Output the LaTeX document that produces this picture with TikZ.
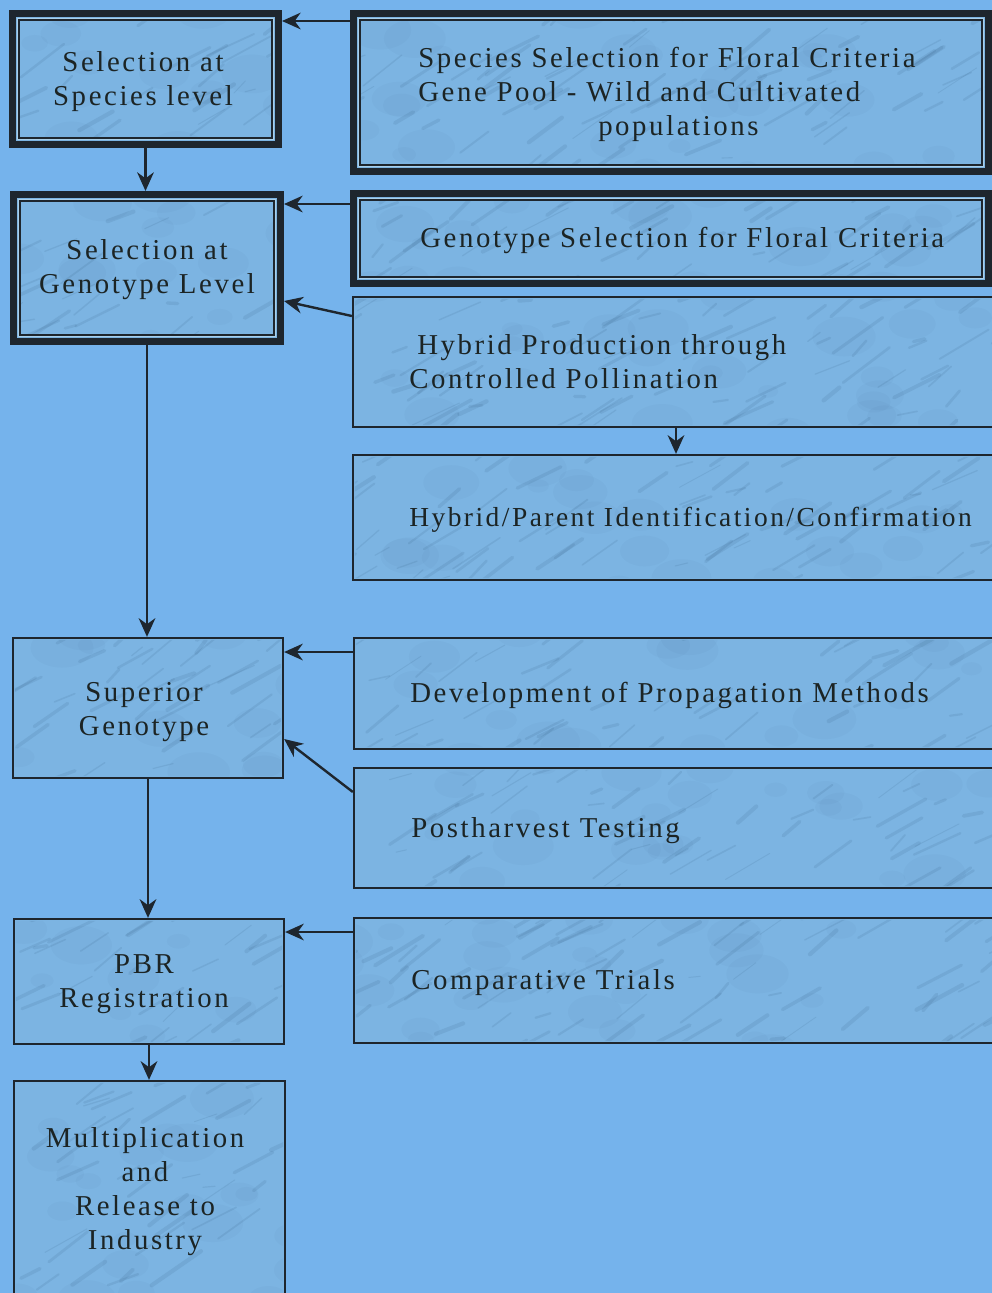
\documentclass[tikz,border=0pt]{standalone}
\usepackage{fontspec}
\setmainfont[LetterSpace=9]{Liberation Serif}
\usetikzlibrary{arrows.meta,calc}
\definecolor{bg}{RGB}{117,179,236}
\definecolor{boxc}{RGB}{124,180,226}
\definecolor{ln}{RGB}{30,38,46}
\definecolor{txt}{RGB}{28,36,36}
\definecolor{lite}{RGB}{170,208,234}
\definecolor{streak}{RGB}{55,95,135}
\begin{document}
\begin{tikzpicture}[x=0.75pt,y=-0.75pt,
  sz/.style 2 args={minimum width=#1*0.75pt, minimum height=#2*0.75pt},
  dbox/.style={draw=ln, line width=5.25pt, fill=boxc, inner sep=0pt},
  sbox/.style={draw=ln, line width=1.7pt, fill=boxc, inner sep=0pt},
  arr/.style={draw=ln, line width=1.8pt, -{Stealth[length=14pt,width=12.5pt,inset=4.5pt]}},
  lbl/.style={text=txt, inner sep=0pt, font=\fontsize{21.6}{25.5}\selectfont},
  inlite/.style={draw=lite, line width=1.1pt},
  indark/.style={draw=ln, line width=1.5pt}]
\fill[bg] (0,0) rectangle (992,1293);
\useasboundingbox (0,0) rectangle (992,1293);
\clip (0,0) rectangle (992,1293);
% double boxes
\node[dbox, sz={266}{131}] (sp) at (145.5,79) {};
\node[dbox, sz={267}{147}] (gl) at (147,268) {};
\node[dbox, sz={635}{158}] (ssel) at (671,92.5) {};
\node[dbox, sz={635}{90}] (gsel) at (671,238.5) {};
% single boxes
\node[sbox, sz={643}{130}] (hyb) at (674.5,362) {};
\node[sbox, sz={643}{125}] (hpi) at (674.5,517.5) {};
\node[sbox, sz={642}{111}] (dev) at (675,693.5) {};
\node[sbox, sz={642}{120}] (post) at (675,828) {};
\node[sbox, sz={642}{125}] (comp) at (675,980.5) {};
\node[sbox, sz={270}{140}] (sup) at (148,708) {};
\node[sbox, sz={270}{125}] (pbr) at (149,981.5) {};
\node[sbox, sz={271}{219}] (mult) at (149.5,1190.5) {};
% marble texture inside the boxes
\begin{scope}
\clip ($(sp.north west)+(8,8)$) rectangle ($(sp.south east)+(-8,-8)$)
      ($(gl.north west)+(8,8)$) rectangle ($(gl.south east)+(-8,-8)$)
      ($(ssel.north west)+(8,8)$) rectangle ($(ssel.south east)+(-8,-8)$)
      ($(gsel.north west)+(8,8)$) rectangle ($(gsel.south east)+(-8,-8)$)
      ($(hyb.north west)+(3,3)$) rectangle ($(hyb.south east)+(-3,-3)$)
      ($(hpi.north west)+(3,3)$) rectangle ($(hpi.south east)+(-3,-3)$)
      ($(dev.north west)+(3,3)$) rectangle ($(dev.south east)+(-3,-3)$)
      ($(post.north west)+(3,3)$) rectangle ($(post.south east)+(-3,-3)$)
      ($(comp.north west)+(3,3)$) rectangle ($(comp.south east)+(-3,-3)$)
      ($(sup.north west)+(3,3)$) rectangle ($(sup.south east)+(-3,-3)$)
      ($(pbr.north west)+(3,3)$) rectangle ($(pbr.south east)+(-3,-3)$)
      ($(mult.north west)+(3,3)$) rectangle ($(mult.south east)+(-3,-3)$);
\pgfmathsetseed{7}
\foreach \i in {1,...,900}{
  \pgfmathsetmacro{\xa}{rnd*1000}
  \pgfmathsetmacro{\ya}{rnd*1300}
  \pgfmathsetmacro{\dx}{10+rnd*40}
  \pgfmathsetmacro{\dy}{-0.6*\dx+rnd*16-8}
  \pgfmathsetmacro{\lw}{0.6+rnd*2.6}
  \draw[streak, opacity=0.14, line width=\lw pt, line cap=round] (\xa,\ya) -- ++(\dx,\dy);
}
\foreach \i in {1,...,300}{
  \pgfmathsetmacro{\xa}{rnd*1000}
  \pgfmathsetmacro{\ya}{rnd*1300}
  \pgfmathsetmacro{\rr}{6+rnd*14}
  \fill[streak, opacity=0.045] (\xa,\ya) ellipse[x radius=\rr*1.6*0.75pt, y radius=\rr*0.75pt];
}
\end{scope}
\foreach \n in {sp,gl,ssel,gsel}{
  \draw[inlite] ($(\n.north west)+(8.3,8.3)$) rectangle ($(\n.south east)+(-8.3,-8.3)$);
  \draw[indark] ($(\n.north west)+(10.3,10.3)$) rectangle ($(\n.south east)+(-10.3,-10.3)$);
}
% texts
\node[lbl, align=center] (tsp) at (143,82) {Selection at\\Species level};
\node[lbl, align=center] (tgl) at (147,270) {Selection at\\Genotype Level};
\node[lbl, align=left, anchor=west] (tssel) at (418,94) {Species Selection for Floral Criteria\\Gene Pool - Wild and Cultivated\\\hspace*{135pt}populations};
\node[lbl, anchor=west] (tgsel) at (420,240) {Genotype Selection for Floral Criteria};
\node[lbl, align=left, anchor=west] (thyb) at (409,362) {\hspace*{6pt}Hybrid Production through\\Controlled Pollination};
\node[lbl, anchor=west, font=\fontsize{20.6}{25.5}\selectfont] (thpi) at (409,520) {Hybrid/Parent Identification/Confirmation};
\node[lbl, anchor=west] (tdev) at (410,695) {Development of Propagation Methods};
\node[lbl, anchor=west] (tpost) at (411,831) {Postharvest Testing};
\node[lbl, anchor=west] (tcomp) at (411,983) {Comparative Trials};
\node[lbl, align=center] (tsup) at (144,712) {Superior\\Genotype};
\node[lbl, align=center] (tpbr) at (144,984) {PBR\\Registration};
\node[lbl, align=center] (tmult) at (145,1192) {Multiplication\\and\\Release to\\Industry};
% connectors
\draw[arr] (ssel.west |- 0,21) -- (sp.east |- 0,21);
\draw[arr] (gsel.west |- 0,204) -- (gl.east |- 0,204);
\draw[arr] (hyb.west |- 0,316) -- (gl.east |- 0,301);
\draw[arr] (sp.south) -- (sp.south |- gl.north);
\draw[arr] (gl.south) -- (gl.south |- sup.north);
\draw[arr] (dev.west |- 0,652) -- (sup.east |- 0,652);
\draw[arr] (post.west |- 0,792) -- (sup.east |- 0,739);
\draw[arr] (sup.south) -- (sup.south |- pbr.north);
\draw[arr] (comp.west |- 0,932) -- (pbr.east |- 0,932);
\draw[arr] (pbr.south) -- (pbr.south |- mult.north);
\draw[arr] (hyb.south -| 676,0) -- (hpi.north -| 676,0);
\end{tikzpicture}
\end{document}
